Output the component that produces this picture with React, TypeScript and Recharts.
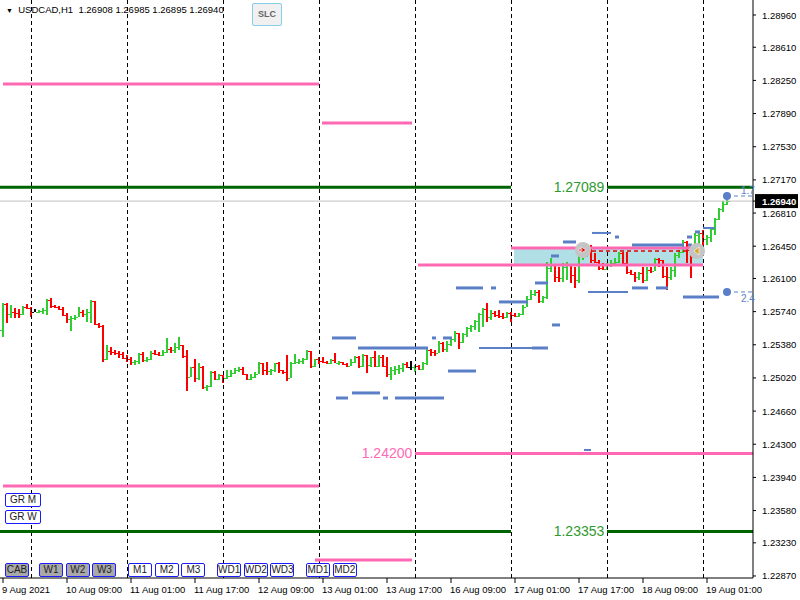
import {
    Bar,
    XAxis,
    YAxis,
    ComposedChart,
    ReferenceLine,
    ReferenceArea,
    ReferenceDot,
} from "recharts";

const SYMBOL = "USDCAD,H1";
const LAST_OHLC = ["1.26908", "1.26985", "1.26895", "1.26940"];

// hourly bars, 9 Aug 17:00 .. 19 Aug 06:00
const X_LABELS = [
    "9 Aug 2021",
    "10 Aug 09:00",
    "11 Aug 01:00",
    "11 Aug 17:00",
    "12 Aug 09:00",
    "13 Aug 01:00",
    "13 Aug 17:00",
    "16 Aug 09:00",
    "17 Aug 01:00",
    "17 Aug 17:00",
    "18 Aug 09:00",
    "19 Aug 01:00",
];
const X_LABEL_STEP = 16;
const DAY_STARTS = [7, 31, 55, 79, 103, 127, 151, 175];

const Y_TICKS = [
    1.2896, 1.2861, 1.2825, 1.2789, 1.2753, 1.2717, 1.2681, 1.2645, 1.261,
    1.2574, 1.2538, 1.2502, 1.2466, 1.243, 1.2394, 1.2358, 1.2323, 1.2287,
];
const LAST_PRICE = 1.2694;

const FIRST_OPEN = 1.2554;
const HIGHS = [
    1.25833, 1.25833, 1.25812, 1.25779, 1.25768, 1.25801, 1.25823, 1.2579, 1.25768, 1.25758,
    1.25779, 1.25877, 1.25888, 1.25812, 1.25801, 1.2579, 1.25725, 1.25693, 1.25704, 1.2579,
    1.25758, 1.25768, 1.25866, 1.25779, 1.25616, 1.25594, 1.25378, 1.25356, 1.25323, 1.25312,
    1.25301, 1.25269, 1.25247, 1.25215, 1.2529, 1.25301, 1.25247, 1.25312, 1.25323, 1.25301,
    1.25323, 1.25453, 1.25356, 1.25399, 1.25464, 1.25378, 1.25323, 1.25139, 1.25226, 1.25182,
    1.2515, 1.24943, 1.25095, 1.25095, 1.25063, 1.25052, 1.25106, 1.25106, 1.25128, 1.25139,
    1.25139, 1.25063, 1.25063, 1.25085, 1.25193, 1.25182, 1.25193, 1.25117, 1.25182, 1.25193,
    1.25106, 1.25269, 1.25193, 1.2528, 1.25226, 1.25236, 1.25323, 1.25312, 1.25226, 1.25247,
    1.25247, 1.25204, 1.25226, 1.2529, 1.25204, 1.25193, 1.25182, 1.25226, 1.25258, 1.25258,
    1.2528, 1.25269, 1.25247, 1.25312, 1.25269, 1.25269, 1.25247, 1.25139, 1.2515, 1.25161,
    1.25182, 1.25193, 1.25204, 1.25161, 1.25161, 1.25193, 1.25334, 1.25334, 1.25323, 1.25421,
    1.2541, 1.25421, 1.25453, 1.25529, 1.25507, 1.25507, 1.25573, 1.25594, 1.25649, 1.25725,
    1.25779, 1.25833, 1.25758, 1.25747, 1.25758, 1.25725, 1.25736, 1.25736, 1.25725, 1.25725,
    1.25812, 1.2591, 1.25975, 1.25975, 1.25975, 1.2591, 1.26279, 1.26323, 1.26236, 1.26225,
    1.26268, 1.26279, 1.26236, 1.26225, 1.26377, 1.26485, 1.26464, 1.26464, 1.26377, 1.26301,
    1.26268, 1.26268, 1.26301, 1.26323, 1.26388, 1.26388, 1.26388, 1.26192, 1.2617, 1.2617,
    1.26225, 1.26225, 1.26225, 1.26323, 1.26323, 1.26301, 1.26225, 1.26225, 1.26377, 1.26409,
    1.26518, 1.26507, 1.26453, 1.26594, 1.26616, 1.26626, 1.26572, 1.26648, 1.26757, 1.26865,
    1.26941, 1.26985,
];
const LOWS = [
    1.25464, 1.25616, 1.25671, 1.25671, 1.25671, 1.25704, 1.25768, 1.25682, 1.25736, 1.25725,
    1.25715, 1.25704, 1.25779, 1.25779, 1.25758, 1.25693, 1.25616, 1.25529, 1.25649, 1.25682,
    1.25682, 1.25627, 1.25616, 1.25594, 1.25562, 1.25193, 1.25215, 1.25269, 1.25269, 1.25236,
    1.25226, 1.25193, 1.25161, 1.25161, 1.25172, 1.25193, 1.25193, 1.25215, 1.25269, 1.25258,
    1.25258, 1.2529, 1.2529, 1.2529, 1.25323, 1.25236, 1.24878, 1.2503, 1.24976, 1.24998,
    1.249, 1.24878, 1.24922, 1.24998, 1.24998, 1.24965, 1.25008, 1.2503, 1.25063, 1.25085,
    1.25052, 1.24998, 1.24998, 1.25019, 1.25063, 1.25052, 1.25052, 1.25052, 1.25085, 1.25074,
    1.25063, 1.24987, 1.25019, 1.25172, 1.25172, 1.25172, 1.25215, 1.25128, 1.25139, 1.25172,
    1.25182, 1.25172, 1.25172, 1.25182, 1.25161, 1.25161, 1.25139, 1.2515, 1.25182, 1.25128,
    1.25139, 1.25074, 1.25139, 1.25139, 1.25139, 1.25139, 1.2503, 1.24998, 1.25052, 1.25063,
    1.25085, 1.25128, 1.25106, 1.25085, 1.25106, 1.25106, 1.25161, 1.25258, 1.25258, 1.2529,
    1.25301, 1.25301, 1.25367, 1.2541, 1.25334, 1.25399, 1.25464, 1.25518, 1.2554, 1.25518,
    1.25573, 1.25627, 1.25649, 1.25682, 1.25671, 1.2566, 1.25671, 1.25627, 1.25682, 1.25682,
    1.25704, 1.25812, 1.25866, 1.2591, 1.25833, 1.25833, 1.25877, 1.2617, 1.26062, 1.26062,
    1.26062, 1.26083, 1.26051, 1.25997, 1.26051, 1.26301, 1.26334, 1.26268, 1.26268, 1.26192,
    1.26192, 1.26192, 1.26225, 1.26247, 1.26268, 1.26247, 1.26149, 1.26138, 1.26062, 1.26083,
    1.26051, 1.26072, 1.2616, 1.26181, 1.26225, 1.26105, 1.25975, 1.26083, 1.26116, 1.26323,
    1.26377, 1.26268, 1.26105, 1.26323, 1.26442, 1.26442, 1.26464, 1.26496, 1.26572, 1.26735,
    1.26822, 1.26895,
];
const CLOSES = [
    1.25823, 1.25715, 1.25736, 1.25725, 1.25715, 1.2579, 1.25779, 1.25736, 1.25736, 1.25747,
    1.25758, 1.25866, 1.25801, 1.2579, 1.25768, 1.25704, 1.2566, 1.25671, 1.25682, 1.25736,
    1.25715, 1.25736, 1.25855, 1.25605, 1.25584, 1.25226, 1.25312, 1.25301, 1.2529, 1.2528,
    1.25236, 1.25226, 1.25193, 1.25204, 1.2528, 1.25215, 1.25226, 1.2529, 1.2528, 1.25269,
    1.25301, 1.25334, 1.25323, 1.25356, 1.25378, 1.25258, 1.2503, 1.25139, 1.25019, 1.25139,
    1.24922, 1.24933, 1.25085, 1.25008, 1.25052, 1.25019, 1.25041, 1.25074, 1.25106, 1.25117,
    1.25063, 1.25008, 1.2503, 1.25063, 1.25182, 1.25106, 1.25095, 1.25106, 1.25182, 1.25106,
    1.25085, 1.25019, 1.25182, 1.25193, 1.25204, 1.25226, 1.25312, 1.2515, 1.25226, 1.25204,
    1.25193, 1.25182, 1.25215, 1.25182, 1.25193, 1.25172, 1.2515, 1.25193, 1.25247, 1.2515,
    1.25269, 1.25161, 1.25247, 1.2515, 1.25247, 1.2515, 1.25063, 1.25106, 1.25117, 1.25128,
    1.25172, 1.25139, 1.25139, 1.2515, 1.25117, 1.25182, 1.25323, 1.25301, 1.2529, 1.25399,
    1.25334, 1.25388, 1.25443, 1.25507, 1.2541, 1.25497, 1.25562, 1.25584, 1.25638, 1.25715,
    1.25768, 1.25682, 1.25725, 1.25704, 1.25693, 1.25682, 1.25725, 1.25704, 1.25693, 1.25715,
    1.2579, 1.25877, 1.25932, 1.25953, 1.25855, 1.25899, 1.26214, 1.26257, 1.26116, 1.26105,
    1.26225, 1.26247, 1.26138, 1.26083, 1.26344, 1.26409, 1.26431, 1.26301, 1.26279, 1.26214,
    1.26203, 1.26247, 1.26268, 1.26279, 1.26377, 1.26268, 1.2617, 1.26149, 1.26116, 1.2616,
    1.26083, 1.26192, 1.26181, 1.26312, 1.26301, 1.26127, 1.26116, 1.26192, 1.26355, 1.26388,
    1.26496, 1.26409, 1.26334, 1.26572, 1.26594, 1.26529, 1.26551, 1.26637, 1.26746, 1.26854,
    1.26908, 1.2694,
];

// horizontal objects: [from bar, to bar, price]
const PINK_LEVELS = [
    [0, 79, 1.28211],
    [79.75, 102.25, 1.27788],
    [127, 175, 1.26431],
    [103.75, 175, 1.26246],
    [103, 187.5, 1.242],
    [0, 79, 1.23847],
    [78, 102.25, 1.23044],
];
const GREEN_LEVELS = [1.27089, 1.23353];
const GREEN_GAP = [127, 151];
const ZONE_X = [127.75, 175];
const ZONE_Y = [1.26246, 1.26431];
const TRADE_LINE = [145.5, 173.5, 1.26398];
const TRADE_MARKS = [
    [145, 1.26409],
    [173.5, 1.26398],
];

const BLUE_THICK = [
    [82.25, 88.25, 1.25454],
    [88.75, 106.25, 1.25345],
    [132.25, 136.25, 1.25345],
    [107.25, 108.25, 1.25454],
    [110, 112.25, 1.25454],
    [111.25, 118.25, 1.25095],
    [83.25, 86.25, 1.24802],
    [95, 96.25, 1.24802],
    [98, 110.25, 1.24802],
    [87.25, 94.25, 1.24857],
    [113.25, 120, 1.25997],
    [122, 123.25, 1.25997],
    [124, 131.25, 1.25845],
    [133, 136.25, 1.26051],
    [137.25, 139.25, 1.25595],
    [153, 154, 1.2655],
    [140, 143.25, 1.26496],
    [137, 139, 1.26344],
    [157.25, 161.25, 1.25997],
    [163.25, 166.25, 1.25997],
    [170, 179, 1.25899],
    [157.25, 170.25, 1.26463],
    [171.25, 172.25, 1.26463],
    [171, 172.25, 1.2655],
    [173, 174.25, 1.26605],
];
const BLUE_THIN = [
    [119, 136, 1.25345],
    [147.25, 152, 1.26594],
    [146.25, 156.25, 1.25953],
    [175, 178, 1.26648],
    [145.25, 147, 1.24238],
];
const TARGETS = [
    [181, 1.26995, "1.7"],
    [181, 1.25953, "2.4"],
];

const BOTTOM_BUTTONS = [
    { start: 5, names: ["CAB"], pressed: true },
    { start: 39, names: ["W1", "W2", "W3"], pressed: true },
    { start: 128, names: ["M1", "M2", "M3"], pressed: false },
    { start: 217, names: ["WD1", "WD2", "WD3"], pressed: false },
    { start: 306, names: ["MD1", "MD2"], pressed: false },
];

const UP = "#32CD32";
const DOWN = "#FF0000";
const PINK = "#FF69B4";
const DARK_GREEN = "#006400";
const BLUE = "#5B7FC7";
const FONT = '"Liberation Sans", Arial, sans-serif';

const rows = CLOSES.map((close, i) => {
    const open = i === 0 ? FIRST_OPEN : CLOSES[i - 1];
    const high = Math.max(HIGHS[i], open, close);
    const low = Math.min(LOWS[i], open, close);
    return { i, open, close, high, low, range: [low, high] };
});

function OhlcBar(props: any) {
    const { x, y, width, height, payload } = props;
    const cx = Math.round(x + width / 2);
    const top = Math.min(y, y + height);
    const h = Math.abs(height);
    const span = payload.high - payload.low;
    const toY = (v: number) =>
        span === 0 ? top : top + ((payload.high - v) / span) * h;
    const color =
        payload.close > payload.open
            ? UP
            : payload.close < payload.open
              ? DOWN
              : "#000";
    const oy = Math.round(toY(payload.open));
    const cy = Math.round(toY(payload.close));
    return (
        <g shapeRendering="crispEdges" fill={color}>
            <rect x={cx - 1} y={Math.round(top)} width={2} height={Math.max(2, Math.round(h))} />
            <rect x={cx - 3} y={oy} width={2} height={1} />
            <rect x={cx + 1} y={cy} width={2} height={1} />
        </g>
    );
}

function TimeTick(props: any) {
    const { x, y, payload } = props;
    const label = X_LABELS[Math.round(payload.value / X_LABEL_STEP)];
    return (
        <text x={x - 1} y={y + 8} fontSize={9.5} fontFamily={FONT} fill="#000" textAnchor="start">
            {label}
        </text>
    );
}

function PriceTick(props: any) {
    const { x, y, payload } = props;
    if (payload.value === LAST_PRICE) {
        return (
            <g>
                <rect x={x - 7} y={y - 7} width={43} height={14} fill="#000" />
                <text x={x} y={y + 3.5} fontSize={9.5} fontFamily={FONT} fill="#fff" fontWeight="bold">
                    {payload.value.toFixed(5)}
                </text>
            </g>
        );
    }
    return (
        <text x={x} y={y + 3.5} fontSize={9.5} fontFamily={FONT} fill="#000">
            {payload.value.toFixed(5)}
        </text>
    );
}

function levelText(text: string, color: string) {
    return (p: any) => (
        <text
            x={p.cx}
            y={p.cy + 5}
            textAnchor="middle"
            fontSize={14}
            fontFamily={FONT}
            fill={color}
        >
            {text}
        </text>
    );
}

function TradeMark(kind: number) {
    return (p: any) => (
        <g>
            <circle cx={p.cx} cy={p.cy} r={8} fill="#C4C4C4" />
            {kind === 0 ? (
                <path
                    d={`M${p.cx - 2} ${p.cy - 3} L${p.cx + 3} ${p.cy} L${p.cx - 2} ${p.cy + 3} Z M${p.cx - 4} ${p.cy - 1} h3 v2 h-3 Z`}
                    fill="#E00000"
                    stroke="#fff"
                    strokeWidth={0.6}
                />
            ) : (
                <path
                    d={`M${p.cx + 2} ${p.cy - 4} L${p.cx - 3} ${p.cy} L${p.cx + 2} ${p.cy + 4} Z`}
                    fill="#DAA520"
                    stroke="#fff"
                    strokeWidth={0.6}
                />
            )}
        </g>
    );
}

function targetDot(p: any) {
    return <circle cx={p.cx} cy={p.cy} r={4} fill={BLUE} />;
}

function targetText(text: string) {
    return (p: any) => (
        <text x={p.cx} y={p.cy + 4} fontSize={10} fontFamily={FONT} fill={BLUE}>
            {text}
        </text>
    );
}

const btnBase: any = {
    position: "absolute",
    height: 12,
    border: "1px solid #1a1aff",
    borderRadius: 2,
    fontFamily: FONT,
    fontSize: 10,
    lineHeight: "12px",
    textAlign: "center",
    color: "#222",
    boxSizing: "content-box",
};

export default function App() {
    const xTicks = X_LABELS.map((_, k) => k * X_LABEL_STEP);
    return (
        <div
            style={{
                position: "absolute",
                left: 0,
                top: 0,
                width: 800,
                height: 600,
                background: "#fff",
                overflow: "hidden",
            }}
        >
            <ComposedChart
                width={800}
                height={600}
                data={rows}
                margin={{ top: 0, right: 0, bottom: 0, left: 0 }}
            >
                <XAxis
                    dataKey="i"
                    type="number"
                    domain={[-0.75, 187.5]}
                    allowDataOverflow
                    ticks={xTicks}
                    tick={<TimeTick />}
                    tickSize={5}
                    tickMargin={2}
                    height={22}
                    stroke="#000"
                    interval={0}
                />
                <YAxis
                    orientation="right"
                    width={47}
                    type="number"
                    domain={[1.22848, 1.29123]}
                    allowDataOverflow
                    ticks={[...Y_TICKS, LAST_PRICE]}
                    tick={<PriceTick />}
                    tickSize={3}
                    tickMargin={6}
                    stroke="#000"
                    interval={0}
                />
                <ReferenceArea
                    x1={ZONE_X[0]}
                    x2={ZONE_X[1]}
                    y1={ZONE_Y[0]}
                    y2={ZONE_Y[1]}
                    fill="#B0E0E6"
                    fillOpacity={1}
                    stroke="none"
                />
                <ReferenceLine y={LAST_PRICE} stroke="#C0C0C0" strokeWidth={1} />
                {DAY_STARTS.map((d) => (
                    <ReferenceLine
                        key={"d" + d}
                        x={d}
                        stroke="#000"
                        strokeDasharray="4 3"
                        shapeRendering="crispEdges"
                    />
                ))}
                <Bar
                    dataKey="range"
                    barSize={2}
                    shape={<OhlcBar />}
                    isAnimationActive={false}
                />
                {GREEN_LEVELS.map((p) => (
                    <ReferenceLine
                        key={"g1" + p}
                        segment={[{ x: -0.75, y: p }, { x: GREEN_GAP[0], y: p }]}
                        stroke={DARK_GREEN}
                        strokeWidth={3}
                    />
                ))}
                {GREEN_LEVELS.map((p) => (
                    <ReferenceLine
                        key={"g2" + p}
                        segment={[{ x: GREEN_GAP[1], y: p }, { x: 187.5, y: p }]}
                        stroke={DARK_GREEN}
                        strokeWidth={3}
                    />
                ))}
                {PINK_LEVELS.map(([a, b, p], k) => (
                    <ReferenceLine
                        key={"p" + k}
                        segment={[{ x: a, y: p }, { x: b, y: p }]}
                        stroke={PINK}
                        strokeWidth={3}
                    />
                ))}
                <ReferenceLine
                    segment={[
                        { x: TRADE_LINE[0], y: TRADE_LINE[2] },
                        { x: TRADE_LINE[1], y: TRADE_LINE[2] },
                    ]}
                    stroke="#E00000"
                    strokeWidth={1.5}
                    strokeDasharray="4 3"
                />
                {BLUE_THIN.map(([a, b, p], k) => (
                    <ReferenceLine
                        key={"bt" + k}
                        segment={[{ x: a, y: p }, { x: b, y: p }]}
                        stroke={BLUE}
                        strokeWidth={2}
                    />
                ))}
                {BLUE_THICK.map(([a, b, p], k) => (
                    <ReferenceLine
                        key={"bk" + k}
                        segment={[{ x: a, y: p }, { x: b, y: p }]}
                        stroke={BLUE}
                        strokeWidth={3}
                    />
                ))}
                {TARGETS.map(([a, p], k) => (
                    <ReferenceLine
                        key={"tl" + k}
                        segment={[{ x: a as number, y: p as number }, { x: 187.5, y: p as number }]}
                        stroke={BLUE}
                        strokeWidth={1}
                        strokeDasharray="4 3"
                    />
                ))}
                {TARGETS.map(([a, p], k) => (
                    <ReferenceDot
                        key={"td" + k}
                        x={a as number}
                        y={p as number}
                        shape={targetDot}
                    />
                ))}
                {TARGETS.map(([, p, t], k) => (
                    <ReferenceDot
                        key={"tt" + k}
                        x={184.5}
                        y={(p as number) + (k === 0 ? 0.0006 : -0.0006)}
                        shape={targetText(t as string)}
                    />
                ))}
                {TRADE_MARKS.map(([a, p], k) => (
                    <ReferenceDot key={"m" + k} x={a} y={p} shape={TradeMark(k)} />
                ))}
                {GREEN_LEVELS.map((p) => (
                    <ReferenceDot
                        key={"gl" + p}
                        x={144}
                        y={p}
                        shape={levelText(p.toFixed(5), "#2E9A2E")}
                    />
                ))}
                <ReferenceDot
                    x={96}
                    y={PINK_LEVELS[4][2]}
                    shape={levelText(PINK_LEVELS[4][2].toFixed(5), PINK)}
                />
            </ComposedChart>

            <div
                style={{
                    position: "absolute",
                    left: 6,
                    top: 4,
                    fontFamily: FONT,
                    fontSize: 9.5,
                    color: "#000",
                    whiteSpace: "pre",
                }}
            >
                <span style={{ fontSize: 7 }}>▼</span>  {SYMBOL}  {LAST_OHLC.join(" ")}
            </div>
            <div
                style={{
                    ...btnBase,
                    left: 252,
                    top: 3,
                    width: 28,
                    height: 21,
                    lineHeight: "21px",
                    border: "1px solid #87CEEB",
                    background: "#F0F0F0",
                    color: "#666",
                    fontSize: 9,
                    fontWeight: "bold",
                }}
            >
                SLC
            </div>
            {["GR M", "GR W"].map((t, k) => (
                <div
                    key={t}
                    style={{ ...btnBase, left: 5, top: 493 + k * 17, width: 34, background: "#fff" }}
                >
                    {t}
                </div>
            ))}
            {BOTTOM_BUTTONS.map((g) =>
                g.names.map((n, k) => (
                    <div
                        key={n}
                        style={{
                            ...btnBase,
                            left: g.start + k * 26.7,
                            top: 563,
                            width: 22,
                            background: g.pressed ? "#A9A9A9" : "#fff",
                        }}
                    >
                        {n}
                    </div>
                )),
            )}
        </div>
    );
}
